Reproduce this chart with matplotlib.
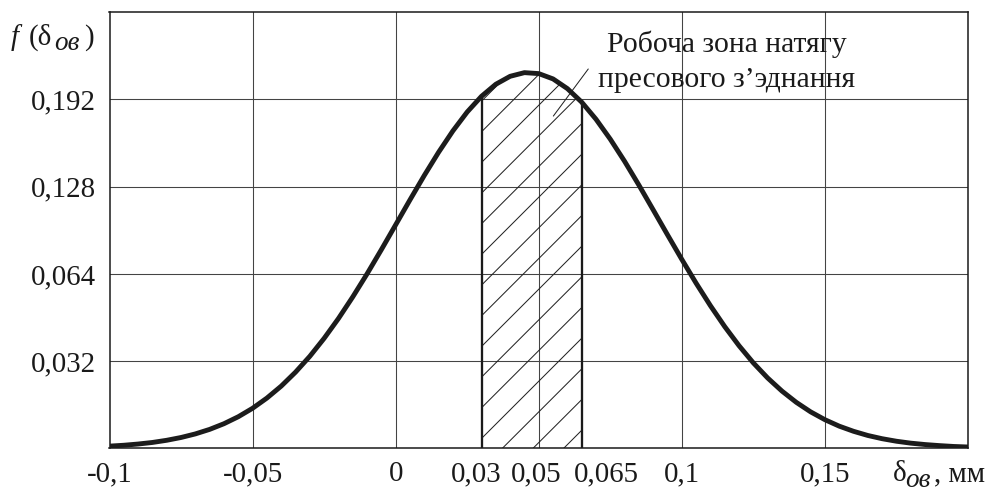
import numpy as np
import matplotlib
matplotlib.use("Agg")
import matplotlib.pyplot as plt
from matplotlib.transforms import ScaledTranslation

# ---- data (y in grid units, 0..5) ----
x_vals = [-0.100, -0.095, -0.090, -0.085, -0.080, -0.075, -0.070, -0.065, -0.060, -0.055,
          -0.050, -0.045, -0.040, -0.035, -0.030, -0.025, -0.020, -0.015, -0.010, -0.005,
          0.000, 0.005, 0.010, 0.015, 0.020, 0.025, 0.030, 0.035, 0.040, 0.045,
          0.050, 0.055, 0.060, 0.065, 0.070, 0.075, 0.080, 0.085, 0.090, 0.095,
          0.100, 0.105, 0.110, 0.115, 0.120, 0.125, 0.130, 0.135, 0.140, 0.145,
          0.150, 0.155, 0.160, 0.165, 0.170, 0.175, 0.180, 0.185, 0.190, 0.195, 0.200]
y_vals = [0.025, 0.035, 0.049, 0.067, 0.092, 0.124, 0.165, 0.217, 0.282, 0.362,
          0.459, 0.576, 0.713, 0.873, 1.055, 1.261, 1.488, 1.736, 2.000, 2.278,
          2.563, 2.849, 3.129, 3.395, 3.640, 3.857, 4.037, 4.175, 4.266, 4.308,
          4.297, 4.236, 4.125, 3.970, 3.774, 3.545, 3.291, 3.018, 2.734, 2.448,
          2.166, 1.893, 1.635, 1.395, 1.176, 0.979, 0.806, 0.656, 0.527, 0.418,
          0.328, 0.254, 0.195, 0.147, 0.110, 0.081, 0.059, 0.043, 0.031, 0.021, 0.015]

zone = [0.03, 0.065]
x_ticks = [-0.1, -0.05, 0, 0.03, 0.05, 0.065, 0.1, 0.15]
x_ticklabels = ['-0,1', '-0,05', '0', '0,03', '0,05', '0,065', '0,1', '0,15']
x_label_shift_px = [0, 0, 0, -5, -2.5, 25, 0, 0]
x_grid = [-0.05, 0, 0.05, 0.1, 0.15]
y_ticks = [1, 2, 3, 4]
y_ticklabels = ['0,032', '0,064', '0,128', '0,192']
annot_lines = ['Робоча зона натягу', 'пресового з’эднання']

DPI = 184
W, H = 991, 493
plt.rcParams['font.family'] = ['Liberation Serif', 'DejaVu Serif']
plt.rcParams['hatch.linewidth'] = 0.4

fig = plt.figure(figsize=(W / DPI, H / DPI), dpi=DPI)
ax = fig.add_axes([109.5 / W, 1 - 448.3 / H, (968 - 109.5) / W, (448.3 - 12.3) / H])

x = np.array(x_vals)
y = np.array(y_vals)

ax.set_xlim(-0.1, 0.2)
ax.set_ylim(0, 5)

ax.set_yticks(y_ticks)
ax.set_yticklabels(y_ticklabels)
ax.set_xticks(x_ticks)
ax.set_xticklabels(x_ticklabels)
ax.grid(False)
for gx in x_grid:
    ax.axvline(gx, color='#444444', lw=0.42, zorder=1)
for gy in y_ticks:
    ax.axhline(gy, color='#444444', lw=0.42, zorder=1)

# hatched working zone
mask = (x >= zone[0] - 1e-9) & (x <= zone[1] + 1e-9)
ax.fill_between(x[mask], 0, y[mask], facecolor='none', edgecolor='#222222',
                hatch='//', linewidth=0, zorder=2)
ax.vlines(zone, 0, np.interp(zone, x, y), color='#1a1a1a', lw=0.9, zorder=3)

# curve
ax.plot(x, y, color='#1c1c1c', lw=1.9, solid_capstyle='butt', zorder=4)

# annotation
ax.annotate('', xy=(0.0551, 3.81), xytext=(0.0673, 4.35),
            arrowprops=dict(arrowstyle='-', lw=0.4, color='#222222', shrinkA=0, shrinkB=0))
ax.text(0.1158, 4.548, annot_lines[0], ha='center', va='baseline', fontsize=11.6,
        color='#1a1a1a', zorder=5)
ax.text(0.1158, 4.147, annot_lines[1], ha='center', va='baseline', fontsize=11.6,
        color='#1a1a1a', zorder=5)

for s in ax.spines.values():
    s.set_color('#1a1a1a')
    s.set_linewidth(0.6)

ax.tick_params(axis='both', which='both', length=0, labelsize=11.3, colors='#1a1a1a')
ax.tick_params(axis='x', pad=5.0)
ax.tick_params(axis='y', pad=5.3)

for lab, dx in zip(ax.get_xticklabels(), x_label_shift_px):
    if dx:
        lab.set_transform(lab.get_transform() + ScaledTranslation(dx / DPI, 0, fig.dpi_scale_trans))


def ftext(px, py, s, **kw):
    fig.text(px / W, 1 - py / H, s, ha='left', va='baseline', color='#1a1a1a',
             fontsize=kw.pop('fontsize', 11.3), **kw)


# y-axis label  f(δов)
ftext(11, 45, 'f', style='italic')
ftext(29, 45, '(δ')
ftext(54, 50, 'ов', style='italic', fontsize=10.6)
ftext(84, 45, ')')

# x-axis label  δов, мм
ftext(893, 481, 'δ')
ftext(905, 487, 'ов', style='italic', fontsize=10.6)
ftext(934, 481, ', мм')

fig.savefig('out.png', dpi=DPI)
